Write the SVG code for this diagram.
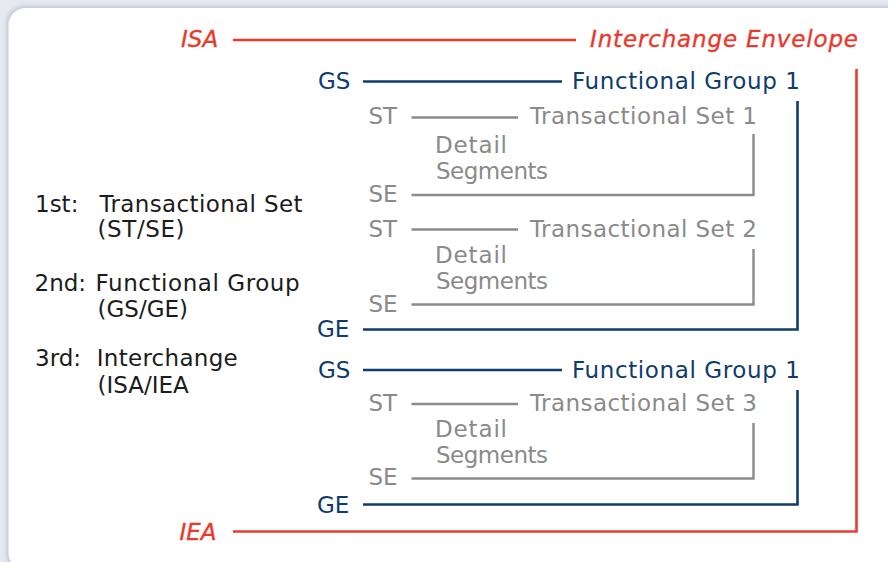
<svg xmlns="http://www.w3.org/2000/svg" width="888" height="562" viewBox="0 0 888 562">
  <defs>
    <filter id="cardShadow" x="-5%" y="-5%" width="110%" height="110%">
      <feGaussianBlur stdDeviation="2.2"/>
    </filter>
    <style>
      text { font-family: "DejaVu Sans", "Liberation Sans", sans-serif; font-size: 23px; }
      .env { fill: #e8392d; font-style: italic; stroke: #e8392d; stroke-width: 0.35; }
      .grp { fill: #0e3c6e; }
      .set { fill: #8a8a8a; }
      .legend { fill: #1c1c1c; }
      .c-env { fill: none; stroke: #ec3b2e; stroke-width: 2.6; }
      .c-grp { fill: none; stroke: #0e3c6e; stroke-width: 2.6; }
      .c-set { fill: none; stroke: #8c8c8c; stroke-width: 2.4; }
    </style>
  </defs>

  <!-- page backdrop and card -->
  <rect x="0" y="0" width="888" height="562" fill="#e6e9ef"/>
  <rect x="6.5" y="6" width="906" height="566" rx="18" fill="#bfc7d6" filter="url(#cardShadow)"/>
  <rect x="8.5" y="8" width="904" height="562" rx="17" fill="#ffffff"/>

  <!-- connectors -->
  <g id="connectors">
    <!-- interchange envelope -->
    <path class="c-env" d="M233 40 H576"/>
    <path class="c-env" d="M856.5 69 V531.5 H233"/>
    <!-- functional groups -->
    <path class="c-grp" d="M363 81.5 H562"/>
    <path class="c-grp" d="M797.5 101 V329.5 H363"/>
    <path class="c-grp" d="M363 370 H562"/>
    <path class="c-grp" d="M797.5 390 V504.5 H363"/>
    <!-- transactional sets -->
    <path class="c-set" d="M411.5 117.5 H518"/>
    <path class="c-set" d="M753.5 134 V195 H411.5"/>
    <path class="c-set" d="M411.5 229.5 H518"/>
    <path class="c-set" d="M753.5 249 V304.5 H411.5"/>
    <path class="c-set" d="M411.5 404 H518"/>
    <path class="c-set" d="M753.5 423 V478.5 H411.5"/>
  </g>

  <!-- interchange envelope -->
  <g id="interchange">
    <text class="env" x="181" y="47">ISA</text>
    <text class="env" x="590" y="47" textLength="268" lengthAdjust="spacing">Interchange Envelope</text>
    <text class="env" x="179.5" y="540">IEA</text>
  </g>

  <!-- functional group 1 (first) -->
  <g id="group-a">
    <text class="grp" x="318" y="88.7">GS</text>
    <text class="grp" x="572" y="88.7" textLength="228" lengthAdjust="spacing">Functional Group 1</text>
    <text class="grp" x="317" y="337">GE</text>
  </g>

  <!-- transactional set 1 -->
  <g id="set-1">
    <text class="set" x="368.5" y="124">ST</text>
    <text class="set" x="530" y="124" textLength="227" lengthAdjust="spacing">Transactional Set 1</text>
    <text class="set" x="435" y="153" textLength="72" lengthAdjust="spacing">Detail</text>
    <text class="set" x="436" y="179" textLength="112" lengthAdjust="spacing">Segments</text>
    <text class="set" x="368.5" y="201.5">SE</text>
  </g>

  <!-- transactional set 2 -->
  <g id="set-2">
    <text class="set" x="368.5" y="236.5">ST</text>
    <text class="set" x="530" y="236.5" textLength="227" lengthAdjust="spacing">Transactional Set 2</text>
    <text class="set" x="435" y="262.5" textLength="72" lengthAdjust="spacing">Detail</text>
    <text class="set" x="436" y="288.5" textLength="112" lengthAdjust="spacing">Segments</text>
    <text class="set" x="368.5" y="311.5">SE</text>
  </g>

  <!-- functional group 1 (second) -->
  <g id="group-b">
    <text class="grp" x="318" y="378">GS</text>
    <text class="grp" x="572" y="378" textLength="228" lengthAdjust="spacing">Functional Group 1</text>
    <text class="grp" x="317" y="513">GE</text>
  </g>

  <!-- transactional set 3 -->
  <g id="set-3">
    <text class="set" x="368.5" y="411">ST</text>
    <text class="set" x="530" y="411" textLength="227" lengthAdjust="spacing">Transactional Set 3</text>
    <text class="set" x="435" y="437" textLength="72" lengthAdjust="spacing">Detail</text>
    <text class="set" x="436" y="463" textLength="112" lengthAdjust="spacing">Segments</text>
    <text class="set" x="368.5" y="485">SE</text>
  </g>

  <!-- nesting order legend -->
  <g id="legend">
    <text class="legend" x="35" y="211.5">1st:</text>
    <text class="legend" x="99.5" y="211.5" textLength="203" lengthAdjust="spacing">Transactional Set</text>
    <text class="legend" x="97.5" y="236.5" textLength="87" lengthAdjust="spacing">(ST/SE)</text>
    <text class="legend" x="34.5" y="290.5">2nd:</text>
    <text class="legend" x="95.5" y="290.5" textLength="204" lengthAdjust="spacing">Functional Group</text>
    <text class="legend" x="97.5" y="317">(GS/GE)</text>
    <text class="legend" x="35" y="365.5">3rd:</text>
    <text class="legend" x="96.7" y="365.5" textLength="141" lengthAdjust="spacing">Interchange</text>
    <text class="legend" x="97.5" y="393">(ISA/IEA</text>
  </g>
</svg>
